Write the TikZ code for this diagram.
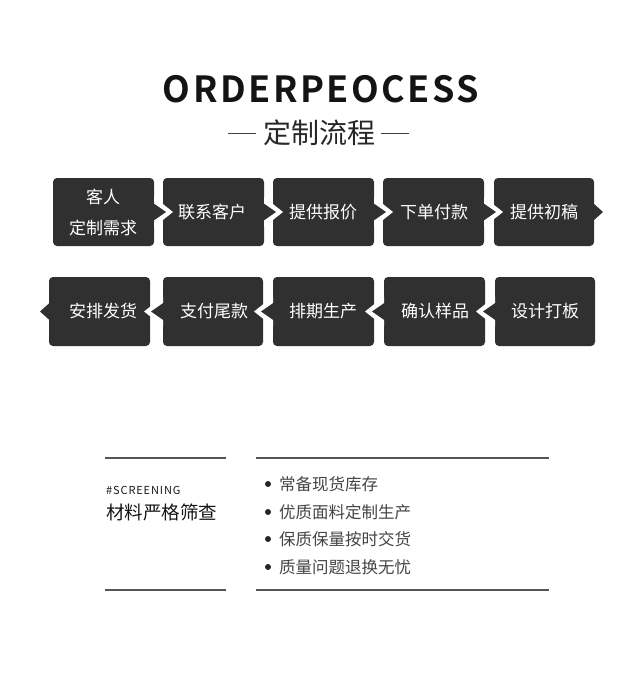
\documentclass[tikz,border=0pt]{standalone}
\usepackage{fontspec}
\setmainfont{Noto Sans CJK SC}
\newfontfamily\titlefont[LetterSpace=7]{Noto Sans CJK SC Bold}
\newfontfamily\tagfont[LetterSpace=8]{Noto Sans CJK SC}
\definecolor{boxgray}{HTML}{303030}
\definecolor{txtgray}{HTML}{444444}
\definecolor{linegray}{HTML}{555555}
\tikzset{
  stepbox/.style={fill=boxgray, rounded corners=4pt},
  boxtext/.style={text=white, font=\fontsize{17}{20}\selectfont, inner sep=0pt, anchor=center},
  darktri/.style={fill=boxgray},
  whitetri/.style={fill=white},
  sepline/.style={draw=linegray, line width=1.1pt},
  itemtext/.style={text=txtgray, font=\fontsize{16.5}{19}\selectfont, anchor=west, inner sep=0pt},
  bulletdot/.style={circle, fill=black!85, inner sep=0pt, minimum size=6pt}
}
\begin{document}
\begin{tikzpicture}[x=1pt,y=-1pt]
\useasboundingbox (0,0) rectangle (620,682);
% title
\node[font=\titlefont\fontsize{36}{40}\selectfont, text=black!92, inner sep=0pt] (title) at (321,89) {ORDERPEOCESS};
\node[font=\fontsize{28}{31}\selectfont, text=black!85, inner sep=0pt] (sub) at (319,133) {定制流程};
\coordinate (dl1) at (228,133); \coordinate (dl2) at (256,133);
\coordinate (dr1) at (381,133); \coordinate (dr2) at (409,133);
\draw[black!75, line width=0.9pt] (dl1) -- (dl2);
\draw[black!75, line width=0.9pt] (dr1) -- (dr2);

% row 1 boxes
\def\rAt{178}\def\rAb{246}\def\rAc{212}
\foreach \l/\r [count=\i] in {53/154, 163/264, 273/374, 383/484, 494/594}{
  \fill[stepbox] (\l,\rAt) rectangle (\r,\rAb);
}
% row 1 arrows (pointing right)
\foreach \R in {154,264,374,484}{
  \fill[whitetri] (\R,\rAc-15) -- (\R+19,\rAc) -- (\R,\rAc+15) -- cycle;
  \fill[darktri] (\R-1,\rAc-9) -- (\R+12,\rAc) -- (\R-1,\rAc+9) -- cycle;
}
\fill[darktri] (593,\rAc-9) -- (603,\rAc) -- (593,\rAc+9) -- cycle;

% row 2 boxes
\def\rBt{277}\def\rBb{346}\def\rBc{311.5}
\foreach \l/\r in {49/150, 163/263, 273/374, 384/485, 495/595}{
  \fill[stepbox] (\l,\rBt) rectangle (\r,\rBb);
}
% row 2 arrows (pointing left)
\foreach \L in {163,273,384,495}{
  \fill[whitetri] (\L,\rBc-15) -- (\L-19,\rBc) -- (\L,\rBc+15) -- cycle;
  \fill[darktri] (\L+1,\rBc-9) -- (\L-12,\rBc) -- (\L+1,\rBc+9) -- cycle;
}
\fill[darktri] (50,\rBc-9) -- (40,\rBc) -- (50,\rBc+9) -- cycle;

% row 1 texts
\node[boxtext] (s1a) at (103,197) {客人};
\node[boxtext] (s1b) at (103,228) {定制需求};
\node[boxtext] (s2) at (212,\rAc) {联系客户};
\node[boxtext] (s3) at (323,\rAc) {提供报价};
\node[boxtext] (s4) at (434,\rAc) {下单付款};
\node[boxtext] (s5) at (544,\rAc) {提供初稿};
% row 2 texts
\node[boxtext] (s10) at (103,\rBc) {安排发货};
\node[boxtext] (s9) at (214,\rBc) {支付尾款};
\node[boxtext] (s8) at (323,\rBc) {排期生产};
\node[boxtext] (s7) at (435,\rBc) {确认样品};
\node[boxtext] (s6) at (545,\rBc) {设计打板};

% bottom section
\coordinate (la1) at (105,458); \coordinate (la2) at (226,458);
\coordinate (lb1) at (105,590); \coordinate (lb2) at (226,590);
\coordinate (ra1) at (256,458); \coordinate (ra2) at (549,458);
\coordinate (rb1) at (256,590); \coordinate (rb2) at (549,590);
\draw[sepline] (la1) -- (la2);
\draw[sepline] (lb1) -- (lb2);
\draw[sepline] (ra1) -- (ra2);
\draw[sepline] (rb1) -- (rb2);

\node[font=\tagfont\fontsize{11}{13}\selectfont, text=black!90, anchor=west, inner sep=0pt] (tag) at (106,490) {\#SCREENING};
\node[font=\fontsize{18.5}{21}\selectfont, text=black!92, anchor=west, inner sep=0pt] (head) at (106,512) {材料严格筛查};

\node[bulletdot] (b1) at (268,484) {};
\node[bulletdot] (b2) at (268,512) {};
\node[bulletdot] (b3) at (268,539) {};
\node[bulletdot] (b4) at (268,567) {};
\node[itemtext] (i1) at (279,484) {常备现货库存};
\node[itemtext] (i2) at (279,512) {优质面料定制生产};
\node[itemtext] (i3) at (279,539) {保质保量按时交货};
\node[itemtext] (i4) at (279,567) {质量问题退换无忧};
\end{tikzpicture}
\end{document}
